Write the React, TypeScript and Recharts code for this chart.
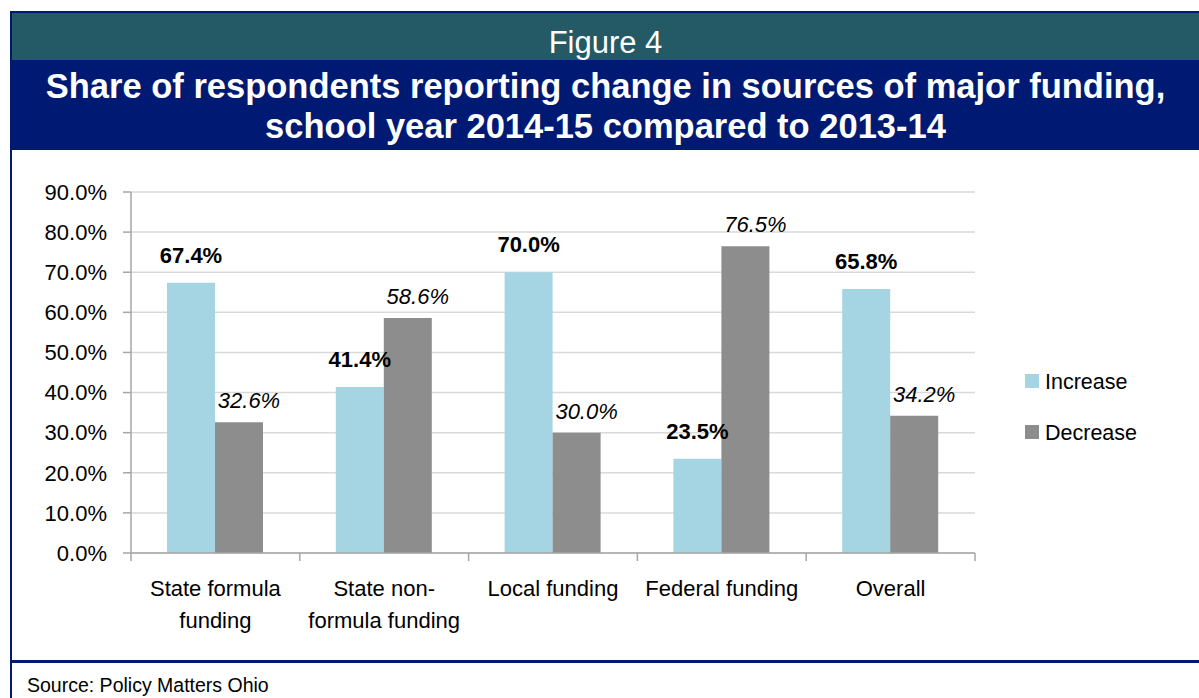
import { BarChart, Bar, XAxis, YAxis, CartesianGrid, Legend, LabelList } from 'recharts';

const categories = [
  'State formula\nfunding',
  'State non-\nformula funding',
  'Local funding',
  'Federal funding',
  'Overall',
];
const increaseValues = [67.4, 41.4, 70.0, 23.5, 65.8];
const decreaseValues = [32.6, 58.6, 30.0, 76.5, 34.2];
const yTicks = [0, 10, 20, 30, 40, 50, 60, 70, 80, 90];

const COLORS = {
  increase: '#a5d5e3',
  decrease: '#8d8d8d',
  teal: '#235a66',
  navy: '#001a73',
  grid: '#d9d9d9',
  axis: '#a6a6a6',
};

const FONT = '"Liberation Sans", Arial, sans-serif';

// chart geometry
const CHART_W = 1199;
const CHART_H = 508;
const Y_AXIS_W = 131;
const MARGIN = { top: 42, right: 224, left: 0, bottom: 45 };
const X_AXIS_H = 60;
const BAND = (CHART_W - Y_AXIS_W - MARGIN.right) / categories.length;

const data = categories.map((name, i) => ({
  name,
  increase: increaseValues[i],
  decrease: decreaseValues[i],
}));

const XTick = (props: any) => {
  const { x, y, payload, index } = props;
  const lines = String(payload.value).split('\n');
  const half = BAND / 2;
  return (
    <g>
      <line x1={x - half} x2={x - half} y1={y} y2={y + 8} stroke={COLORS.axis} strokeWidth={1.5} />
      {index === categories.length - 1 && (
        <line x1={x + half} x2={x + half} y1={y} y2={y + 8} stroke={COLORS.axis} strokeWidth={1.5} />
      )}
      <text x={x} y={y + 43} textAnchor="middle" fontSize={22} fill="#000" fontFamily={FONT}>
        {lines.map((l, i) => (
          <tspan key={i} x={x} dy={i === 0 ? 0 : 32}>
            {l}
          </tspan>
        ))}
      </text>
    </g>
  );
};

const increaseLabel = (props: any) => {
  const { x, y, width, value } = props;
  return (
    <text x={x + width / 2} y={y - 20} textAnchor="middle" fontSize={22} fontWeight="bold" fill="#000" fontFamily={FONT}>
      {`${Number(value).toFixed(1)}%`}
    </text>
  );
};

const decreaseLabel = (props: any) => {
  const { x, y, width, value } = props;
  return (
    <text x={x + width / 2 + 10} y={y - 14} textAnchor="middle" fontSize={22} fontStyle="italic" fill="#000" fontFamily={FONT}>
      {`${Number(value).toFixed(1)}%`}
    </text>
  );
};

const LegendContent = (props: any) => {
  const { payload } = props;
  return (
    <div>
      {(payload || []).map((entry: any) => (
        <div key={entry.value} style={{ display: 'flex', alignItems: 'center', height: 51 }}>
          <span style={{ width: 14, height: 14, background: entry.color, marginRight: 6, marginTop: -4 }} />
          <span style={{ fontSize: 21.5, fontFamily: FONT, color: '#000' }}>{entry.value}</span>
        </div>
      ))}
    </div>
  );
};

export default function App() {
  return (
    <div style={{ position: 'absolute', left: 0, top: 0, width: 1199, height: 698, background: '#fff', overflow: 'hidden', fontFamily: FONT }}>
      {/* outer frame */}
      <div style={{ position: 'absolute', left: 10, top: 11, width: 1200, height: 700, borderLeft: `2px solid ${COLORS.navy}`, borderTop: `2px solid ${COLORS.navy}` }} />
      <div style={{ position: 'absolute', left: 12, top: 13, right: 0, height: 47, background: COLORS.teal, color: '#fff', fontSize: 31 }}>
        <div style={{ position: 'absolute', left: 0, right: 0, top: 12, lineHeight: '36px', textAlign: 'center' }}>Figure 4</div>
      </div>
      <div style={{ position: 'absolute', left: 12, top: 60, right: 0, height: 90, background: COLORS.navy, color: '#fff', fontSize: 34.5, fontWeight: 'bold', textAlign: 'center', lineHeight: '40px', paddingTop: 6, boxSizing: 'border-box' }}>
        <div>Share of respondents reporting change in sources of major funding,</div>
        <div>school year 2014-15 compared to 2013-14</div>
      </div>

      <div style={{ position: 'absolute', left: 0, top: 150 }}>
        <BarChart width={CHART_W} height={CHART_H} data={data} margin={MARGIN} barCategoryGap={36} barGap={0}>
          <CartesianGrid vertical={false} stroke={COLORS.grid} strokeWidth={1.5} />
          <XAxis
            dataKey="name"
            height={X_AXIS_H}
            interval={0}
            tickLine={false}
            tickSize={0}
            tickMargin={0}
            stroke={COLORS.axis}
            strokeWidth={1.5}
            tick={<XTick />}
          />
          <YAxis
            width={Y_AXIS_W}
            domain={[0, 90]}
            ticks={yTicks}
            interval={0}
            tickSize={8}
            tickMargin={16}
            stroke={COLORS.axis}
            strokeWidth={1.5}
            tick={{ fill: '#000', fontSize: 22, fontFamily: FONT }}
            tickFormatter={(v: number) => `${v.toFixed(1)}%`}
          />
          <Legend
            layout="vertical"
            align="center"
            verticalAlign="middle"
            itemSorter={null}
            content={<LegendContent />}
            wrapperStyle={{ position: 'absolute', left: 1025, top: 207, width: 160 }}
          />
          <Bar dataKey="increase" name="Increase" fill={COLORS.increase} isAnimationActive={false}>
            <LabelList dataKey="increase" content={increaseLabel} />
          </Bar>
          <Bar dataKey="decrease" name="Decrease" fill={COLORS.decrease} isAnimationActive={false}>
            <LabelList dataKey="decrease" content={decreaseLabel} />
          </Bar>
        </BarChart>
      </div>

      <div style={{ position: 'absolute', left: 12, top: 660, right: 0, height: 3, background: COLORS.navy }} />
      <div style={{ position: 'absolute', left: 27, top: 673, fontSize: 19.5, color: '#000', lineHeight: '24px' }}>
        Source: Policy Matters Ohio
      </div>
    </div>
  );
}
